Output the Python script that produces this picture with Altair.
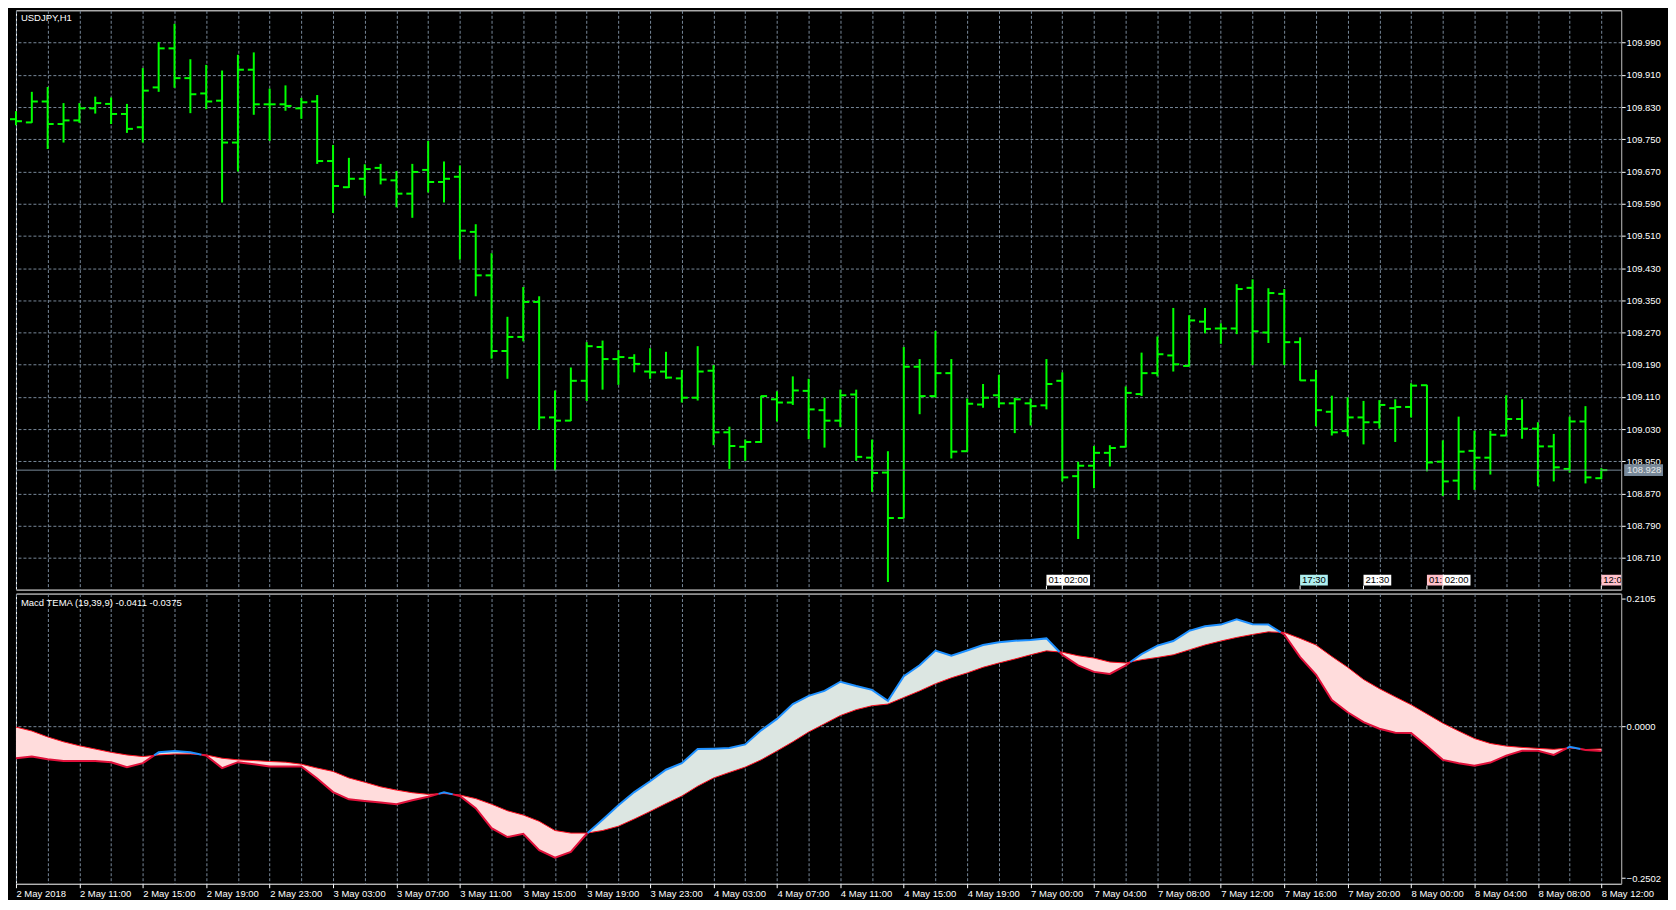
import altair as alt
import pandas as pd

# ---------------- data ----------------
symbol = "USDJPY,H1"
tema_params = [19, 39, 9]

bar_open = [109.800, 109.792, 109.844, 109.788, 109.797, 109.827, 109.838, 109.813, 109.780, 109.879,
            109.976, 109.902, 109.864, 109.846, 109.742, 109.923, 109.837, 109.837, 109.827, 109.844,
            109.696, 109.631, 109.652, 109.679, 109.648, 109.615, 109.674, 109.644, 109.657, 109.520,
            109.412, 109.224, 109.259, 109.346, 109.059, 109.051, 109.150, 109.234, 109.204, 109.207,
            109.173, 109.173, 109.156, 109.108, 109.175, 109.022, 108.986, 108.998, 109.104, 109.096,
            109.125, 109.077, 109.051, 109.116, 108.959, 108.922, 108.809, 109.185, 109.112, 109.169,
            108.975, 109.091, 109.114, 109.094, 109.094, 109.089, 109.150, 108.913, 108.939, 108.971,
            108.986, 109.117, 109.169, 109.213, 109.187, 109.297, 109.280, 109.280, 109.381, 109.270,
            109.366, 109.246, 109.151, 109.073, 109.025, 109.059, 109.047, 109.082, 109.085, 109.139,
            108.949, 108.902, 108.976, 108.959, 109.014, 109.055, 109.031, 108.987, 108.931, 109.049,
            108.908]
bar_high = [109.820, 109.868, 109.880, 109.840, 109.840, 109.856, 109.854, 109.838, 109.927, 109.992,
            110.037, 109.949, 109.935, 109.921, 109.960, 109.966, 109.876, 109.884, 109.853, 109.860,
            109.736, 109.704, 109.688, 109.689, 109.671, 109.689, 109.746, 109.695, 109.685, 109.539,
            109.467, 109.309, 109.383, 109.360, 109.126, 109.183, 109.246, 109.250, 109.226, 109.216,
            109.231, 109.222, 109.177, 109.236, 109.189, 109.036, 109.004, 109.113, 109.124, 109.161,
            109.155, 109.108, 109.128, 109.128, 109.004, 108.975, 109.234, 109.204, 109.274, 109.204,
            109.106, 109.142, 109.165, 109.108, 109.106, 109.204, 109.171, 108.949, 108.988, 108.990,
            109.136, 109.220, 109.260, 109.331, 109.313, 109.331, 109.293, 109.390, 109.402, 109.380,
            109.378, 109.258, 109.177, 109.113, 109.109, 109.100, 109.102, 109.104, 109.144, 109.140,
            109.002, 109.061, 109.026, 109.026, 109.114, 109.104, 109.047, 109.018, 109.061, 109.087,
            108.933]
bar_low = [109.785, 109.791, 109.726, 109.742, 109.791, 109.814, 109.788, 109.766, 109.742, 109.868,
           109.878, 109.815, 109.825, 109.593, 109.670, 109.811, 109.746, 109.821, 109.801, 109.689,
           109.567, 109.629, 109.610, 109.638, 109.581, 109.555, 109.618, 109.593, 109.451, 109.360,
           109.205, 109.155, 109.248, 109.028, 108.927, 109.050, 109.100, 109.128, 109.140, 109.171,
           109.155, 109.155, 109.096, 109.101, 108.990, 108.931, 108.951, 108.996, 109.049, 109.090,
           109.005, 108.984, 109.035, 108.951, 108.874, 108.650, 108.808, 109.067, 109.108, 108.957,
           108.974, 109.083, 109.083, 109.020, 109.039, 109.079, 108.900, 108.757, 108.883, 108.937,
           108.985, 109.112, 109.161, 109.173, 109.186, 109.268, 109.242, 109.266, 109.189, 109.244,
           109.189, 109.150, 109.037, 109.014, 109.012, 108.992, 109.031, 108.998, 109.059, 108.925,
           108.864, 108.854, 108.879, 108.917, 109.013, 109.006, 108.888, 108.900, 108.922, 108.895,
           108.906]
bar_close = [109.795, 109.844, 109.788, 109.797, 109.827, 109.840, 109.813, 109.776, 109.871, 109.976,
             109.902, 109.862, 109.844, 109.742, 109.923, 109.837, 109.837, 109.833, 109.842, 109.696,
             109.634, 109.652, 109.676, 109.650, 109.615, 109.669, 109.644, 109.652, 109.523, 109.412,
             109.224, 109.259, 109.346, 109.059, 109.051, 109.150, 109.236, 109.204, 109.209, 109.192,
             109.171, 109.158, 109.108, 109.173, 109.022, 108.988, 108.998, 109.112, 109.096, 109.126,
             109.079, 109.051, 109.114, 108.961, 108.921, 108.809, 109.185, 109.112, 109.169, 108.974,
             109.093, 109.108, 109.094, 109.104, 109.087, 109.142, 108.910, 108.939, 108.971, 108.983,
             109.120, 109.169, 109.216, 109.191, 109.300, 109.279, 109.280, 109.378, 109.273, 109.368,
             109.246, 109.151, 109.077, 109.022, 109.059, 109.047, 109.090, 109.085, 109.138, 108.947,
             108.900, 108.974, 108.959, 109.016, 109.055, 109.031, 108.987, 108.935, 109.049, 108.910,
             108.928]
bid_price = 108.928

macd_main = [-0.0528, -0.0501, -0.0544, -0.0572, -0.0572, -0.0572, -0.0593, -0.0674, -0.0609, -0.0431,
             -0.0409, -0.0431, -0.0485, -0.0690, -0.0593, -0.0626, -0.0663, -0.0663, -0.0663, -0.0863,
             -0.1085, -0.1204, -0.1231, -0.1258, -0.1285, -0.1220, -0.1161, -0.1090, -0.1150, -0.1350,
             -0.1680, -0.1826, -0.1772, -0.2042, -0.2167, -0.2069, -0.1772, -0.1539, -0.1301, -0.1085,
             -0.0907, -0.0717, -0.0609, -0.0377, -0.0371, -0.0361, -0.0301, -0.0069, 0.0120, 0.0364,
             0.0499, 0.0580, 0.0732, 0.0661, 0.0597, 0.0418, 0.0823, 0.1002, 0.1245, 0.1159,
             0.1245, 0.1337, 0.1380, 0.1407, 0.1418, 0.1445, 0.1175, 0.1002, 0.0894, 0.0861,
             0.1002, 0.1186, 0.1326, 0.1402, 0.1570, 0.1645, 0.1672, 0.1759, 0.1678, 0.1672,
             0.1510, 0.1137, 0.0850, 0.0429, 0.0229, 0.0066, -0.0042, -0.0107, -0.0112, -0.0328,
             -0.0555, -0.0609, -0.0653, -0.0599, -0.0485, -0.0404, -0.0404, -0.0474, -0.0340, -0.0393,
             -0.0411]
macd_signal = [-0.0015, -0.0080, -0.0177, -0.0258, -0.0323, -0.0377, -0.0431, -0.0474, -0.0501, -0.0474,
               -0.0458, -0.0458, -0.0474, -0.0528, -0.0555, -0.0566, -0.0582, -0.0593, -0.0626, -0.0690,
               -0.0745, -0.0853, -0.0923, -0.0999, -0.1053, -0.1096, -0.1123, -0.1110, -0.1134, -0.1193,
               -0.1285, -0.1393, -0.1464, -0.1566, -0.1718, -0.1761, -0.1761, -0.1718, -0.1647, -0.1529,
               -0.1404, -0.1274, -0.1150, -0.0988, -0.0853, -0.0761, -0.0674, -0.0555, -0.0409, -0.0258,
               -0.0096, 0.0039, 0.0175, 0.0272, 0.0337, 0.0364, 0.0472, 0.0580, 0.0699, 0.0796,
               0.0877, 0.0969, 0.1040, 0.1105, 0.1175, 0.1240, 0.1218, 0.1159, 0.1121, 0.1056,
               0.1040, 0.1094, 0.1132, 0.1175, 0.1256, 0.1337, 0.1402, 0.1461, 0.1510, 0.1553,
               0.1543, 0.1445, 0.1337, 0.1148, 0.0969, 0.0769, 0.0618, 0.0483, 0.0353, 0.0202,
               0.0050, -0.0080, -0.0204, -0.0285, -0.0328, -0.0350, -0.0366, -0.0382, -0.0358, -0.0385,
               -0.0375]

time_labels = ["2 May 2018", "2 May 11:00", "2 May 15:00", "2 May 19:00", "2 May 23:00",
               "3 May 03:00", "3 May 07:00", "3 May 11:00", "3 May 15:00", "3 May 19:00",
               "3 May 23:00", "4 May 03:00", "4 May 07:00", "4 May 11:00", "4 May 15:00",
               "4 May 19:00", "7 May 00:00", "7 May 04:00", "7 May 08:00", "7 May 12:00",
               "7 May 16:00", "7 May 20:00", "8 May 00:00", "8 May 04:00", "8 May 08:00",
               "8 May 12:00"]
price_ticks = [108.710, 108.790, 108.870, 108.950, 109.030, 109.110, 109.190, 109.270, 109.350,
               109.430, 109.510, 109.590, 109.670, 109.750, 109.830, 109.910, 109.990]
macd_ticks = [-0.2502, 0.0, 0.2105]

event_bar = [65, 66, 81, 85, 89, 90, 100]
event_text = ["01:", "02:00", "17:30", "21:30", "01:", "02:00", "12:00"]
event_kind = ["plain", "plain", "cyan", "plain", "pink", "plain", "pink"]

# ---------------- styles ----------------
FONT = "Liberation Sans"
FS = 9.5
GREEN = "#00FF00"
GRID = "#778899"
W, H1, H2 = 1610, 581, 291
X_MAX = 101.25
PX_PER_BAR = W / X_MAX

n = len(bar_close)
ohlc = pd.DataFrame({"k": list(range(n)), "open": bar_open, "high": bar_high,
                     "low": bar_low, "close": bar_close})

xscale = alt.Scale(domain=[0, X_MAX], nice=False, zero=False)
grid_k = list(range(0, n, 2))
p_scale = alt.Scale(domain=[108.6312, 110.0705], nice=False, zero=False)
m_scale = alt.Scale(domain=[-0.2594, 0.2183], nice=False, zero=False)

x_axis_price = alt.Axis(values=grid_k, grid=True, labels=False, ticks=False, domain=False, title=None)
y_axis_price = alt.Axis(orient="right", values=price_ticks, format=".3f", grid=True, title=None,
                        tickSize=4, labelPadding=1)

xp = alt.X("k:Q", scale=xscale, axis=x_axis_price)

wick = alt.Chart(ohlc).mark_rule(color=GREEN, strokeWidth=2).encode(
    x=xp, y=alt.Y("low:Q", scale=p_scale, axis=y_axis_price), y2="high:Q")
open_tick = alt.Chart(ohlc).mark_rule(color=GREEN, strokeWidth=2, xOffset=-6, x2Offset=0).encode(
    x=xp, x2="k:Q", y=alt.Y("open:Q", scale=p_scale, axis=y_axis_price))
close_tick = alt.Chart(ohlc).mark_rule(color=GREEN, strokeWidth=2, xOffset=0, x2Offset=6).encode(
    x=xp, x2="k:Q", y=alt.Y("close:Q", scale=p_scale, axis=y_axis_price))

bid_df = pd.DataFrame({"bid": [bid_price], "txt": [f"{bid_price:.3f}"]})
bid_rule = alt.Chart(bid_df).mark_rule(color=GRID, strokeWidth=1).encode(
    y=alt.Y("bid:Q", scale=p_scale, axis=y_axis_price))
bid_box = alt.Chart(bid_df).mark_rect(color=GRID, yOffset=-6, y2Offset=6).encode(
    x=alt.value(W + 3), x2=alt.value(W + 42),
    y=alt.Y("bid:Q", scale=p_scale, axis=y_axis_price), y2="bid:Q")
bid_text = alt.Chart(bid_df).mark_text(align="left", baseline="middle", font=FONT, fontSize=FS,
                                       color="#E8E8E8").encode(
    x=alt.value(W + 6), y=alt.Y("bid:Q", scale=p_scale, axis=y_axis_price), text="txt:N")


def text_px(s):
    return sum(2.6 if c == ":" else 5.3 for c in s) + 4


ev = pd.DataFrame({"k": event_bar, "txt": event_text, "kind": event_kind})
ev["k2"] = [k + text_px(t) / PX_PER_BAR for k, t in zip(event_bar, event_text)]
ev_color = alt.Color("kind:N", scale=alt.Scale(domain=["plain", "cyan", "pink"],
                                               range=["#FFFFFF", "#AFEEEE", "#FFC0CB"]), legend=None)
ev_box = alt.Chart(ev).mark_rect(clip=True).encode(
    x=xp, x2="k2:Q", y=alt.value(H1 - 15), y2=alt.value(H1 - 4), color=ev_color)
ev_stem = alt.Chart(ev).mark_rule(color="#FFFFFF", strokeWidth=1, clip=True).encode(
    x=xp, y=alt.value(H1 - 4), y2=alt.value(H1))
ev_txt = alt.Chart(ev).mark_text(align="left", baseline="middle", dx=2, font=FONT, fontSize=FS,
                                 color="#000000", clip=True).encode(
    x=xp, y=alt.value(H1 - 9.5), text="txt:N")

title1 = alt.Chart(pd.DataFrame({"t": [symbol]})).mark_text(
    align="left", baseline="middle", font=FONT, fontSize=FS, color="white").encode(
    x=alt.value(5), y=alt.value(8), text="t:N")

price_chart = alt.layer(wick, open_tick, close_tick, bid_rule, bid_box, bid_text,
                        ev_box, ev_stem, ev_txt, title1).properties(width=W, height=H1)

# ---------------- MACD panel ----------------
dense = []
for i in range(n):
    m, s = macd_main[i], macd_signal[i]
    dense.append((float(i), m, s))
    if i < n - 1:
        d0 = m - s
        d1 = macd_main[i + 1] - macd_signal[i + 1]
        if d0 * d1 < 0:
            t = d0 / (d0 - d1)
            mc = m + t * (macd_main[i + 1] - m)
            dense.append((i + t, mc, mc))

fill_df = pd.DataFrame({
    "k": [d[0] for d in dense],
    "bull_hi": [max(d[1], d[2]) for d in dense],
    "bull_lo": [d[2] for d in dense],
    "bear_hi": [d[2] for d in dense],
    "bear_lo": [min(d[1], d[2]) for d in dense],
    "sig": [d[2] for d in dense],
})

# split the main line into coloured segments
line_rows = []
seg = 0
cur = []


def flush(points, seg_id):
    st = "bull"
    for p in points:
        if p[1] - p[2] > 1e-12:
            st = "bull"
            break
        if p[1] - p[2] < -1e-12:
            st = "bear"
            break
    for p in points:
        line_rows.append({"k": p[0], "m": p[1], "seg": seg_id, "state": st})


for p in dense:
    cur.append(p)
    if abs(p[1] - p[2]) < 1e-12 and len(cur) > 1:
        flush(cur, seg)
        seg += 1
        cur = [p]
if cur:
    flush(cur, seg)
line_df = pd.DataFrame(line_rows)

x_axis_macd = alt.Axis(
    values=grid_k, grid=True, domain=False, title=None,
    labelExpr="datum.value % 4 === 0 ? [" + ",".join("'" + s + "'" for s in time_labels)
              + "][datum.value / 4] : ''",
    labelAlign="left", labelPadding=1, labelOverlap=False, labelBound=False, labelFlush=False,
    tickSize=4,
    tickOpacity={"condition": {"test": "datum.value % 4 === 0", "value": 1}, "value": 0},
)
y_axis_macd = alt.Axis(
    orient="right", values=macd_ticks, format=".4f", grid=True, title=None, tickSize=4, labelPadding=1,
    gridOpacity={"condition": {"test": "datum.value === 0", "value": 1}, "value": 0},
)
xm = alt.X("k:Q", scale=xscale, axis=x_axis_macd)

bull_area = alt.Chart(fill_df).mark_area(color="#DCE6E2", opacity=1).encode(
    x=xm, y=alt.Y("bull_hi:Q", scale=m_scale, axis=y_axis_macd), y2="bull_lo:Q")
bear_area = alt.Chart(fill_df).mark_area(color="#FFDCDC", opacity=1).encode(
    x=xm, y=alt.Y("bear_hi:Q", scale=m_scale, axis=y_axis_macd), y2="bear_lo:Q")
sig_line = alt.Chart(fill_df).mark_line(color="#FF1020", strokeWidth=1).encode(
    x=xm, y=alt.Y("sig:Q", scale=m_scale, axis=y_axis_macd), order="k:Q")
main_line = alt.Chart(line_df).mark_line(strokeWidth=2).encode(
    x=xm, y=alt.Y("m:Q", scale=m_scale, axis=y_axis_macd),
    color=alt.Color("state:N", scale=alt.Scale(domain=["bull", "bear"], range=["#1E90FF", "#E0103A"]),
                    legend=None),
    detail="seg:N", order="k:Q")

macd_title = (f"Macd TEMA ({tema_params[0]},{tema_params[1]},{tema_params[2]}) "
              f"{macd_main[-1]:.4f} {macd_signal[-1]:.4f}")
title2 = alt.Chart(pd.DataFrame({"t": [macd_title]})).mark_text(
    align="left", baseline="middle", font=FONT, fontSize=FS, color="white").encode(
    x=alt.value(5), y=alt.value(9), text="t:N")

macd_chart = alt.layer(bull_area, bear_area, sig_line, main_line, title2).properties(width=W, height=H2)

chart = alt.vconcat(price_chart, macd_chart, spacing=2).resolve_scale(
    color="independent"
).properties(
    padding={"left": 0, "top": 0, "right": 4, "bottom": 0},
    background="#000000",
).configure_view(
    stroke="#FFFFFF", strokeWidth=1
).configure_axis(
    labelFont=FONT, labelFontSize=FS, labelColor="#FFFFFF",
    tickColor="#FFFFFF", tickWidth=1,
    gridColor=GRID, gridDash=[3, 2], gridWidth=1, gridOpacity=1,
)

chart.save("out.html", embed_options={"renderer": "svg", "actions": False})
